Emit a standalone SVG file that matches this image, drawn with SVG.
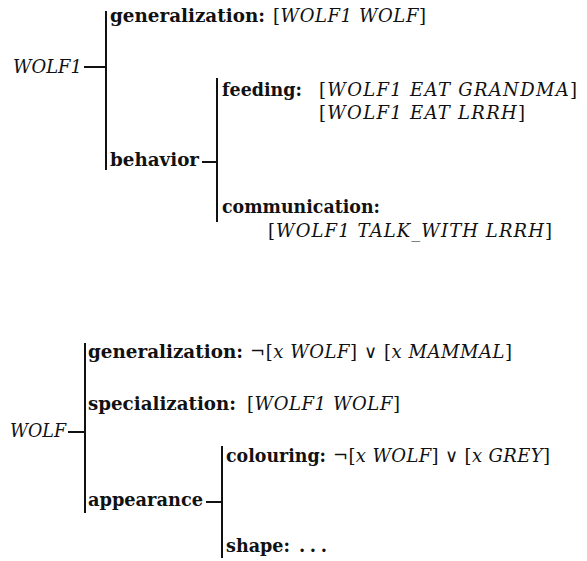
<svg xmlns="http://www.w3.org/2000/svg" width="587" height="561" viewBox="0 0 587 561">
<style>
text{font-family:"DejaVu Serif","Liberation Serif",serif;font-size:18px;fill:#111}
.b{font-weight:bold}
.i,.it{font-style:italic}
line{stroke:#111;stroke-width:2;stroke-linecap:butt}
</style>
<rect width="587" height="561" fill="#fff"/>
<g id="connectors">
<line x1="84" y1="67" x2="106" y2="67"/>
<line x1="106" y1="11" x2="106" y2="170"/>
<line x1="202" y1="162" x2="217" y2="162"/>
<line x1="217" y1="78" x2="217" y2="222"/>
<line x1="68" y1="432" x2="85" y2="432"/>
<line x1="85" y1="343" x2="85" y2="513"/>
<line x1="206" y1="502" x2="222" y2="502"/>
<line x1="222" y1="446" x2="222" y2="558"/>
</g>
<g id="wolf1">
<text class="i" x="13" y="73" textLength="69" lengthAdjust="spacingAndGlyphs">WOLF1</text>
</g>
<g id="wolf1-generalization">
<text class="b" x="110" y="22" textLength="155" lengthAdjust="spacingAndGlyphs">generalization:</text>
<text x="273" y="22" textLength="153">[<tspan class="it">WOLF1 WOLF</tspan>]</text>
</g>
<g id="wolf1-behavior">
<text class="b" x="110" y="166" textLength="89" lengthAdjust="spacingAndGlyphs">behavior</text>
</g>
<g id="wolf1-feeding">
<text class="b" x="222" y="96" textLength="80" lengthAdjust="spacingAndGlyphs">feeding:</text>
<text x="319" y="96" textLength="258">[<tspan class="it">WOLF1 EAT GRANDMA</tspan>]</text>
<text x="319" y="119" textLength="206">[<tspan class="it">WOLF1 EAT LRRH</tspan>]</text>
</g>
<g id="wolf1-communication">
<text class="b" x="222" y="213" textLength="158" lengthAdjust="spacingAndGlyphs">communication:</text>
<text x="268" y="237" textLength="284">[<tspan class="it">WOLF1 TALK_WITH LRRH</tspan>]</text>
</g>
<g id="wolf">
<text class="i" x="10" y="437" textLength="56" lengthAdjust="spacingAndGlyphs">WOLF</text>
</g>
<g id="wolf-generalization">
<text class="b" x="88" y="358" textLength="155" lengthAdjust="spacingAndGlyphs">generalization:</text>
<text x="250" y="358" textLength="262">¬[<tspan class="it">x WOLF</tspan>] ∨ [<tspan class="it">x MAMMAL</tspan>]</text>
</g>
<g id="wolf-specialization">
<text class="b" x="88" y="410" textLength="148" lengthAdjust="spacingAndGlyphs">specialization:</text>
<text x="247" y="410" textLength="153">[<tspan class="it">WOLF1 WOLF</tspan>]</text>
</g>
<g id="wolf-appearance">
<text class="b" x="88" y="506" textLength="115" lengthAdjust="spacingAndGlyphs">appearance</text>
</g>
<g id="wolf-colouring">
<text class="b" x="226" y="462" textLength="100" lengthAdjust="spacingAndGlyphs">colouring:</text>
<text x="333" y="462" textLength="217">¬[<tspan class="it">x WOLF</tspan>] ∨ [<tspan class="it">x GREY</tspan>]</text>
</g>
<g id="wolf-shape">
<text class="b" x="226" y="552" textLength="64" lengthAdjust="spacingAndGlyphs">shape:</text>
<text class="b" x="299" y="552" textLength="28">. . .</text>
</g>
</svg>
